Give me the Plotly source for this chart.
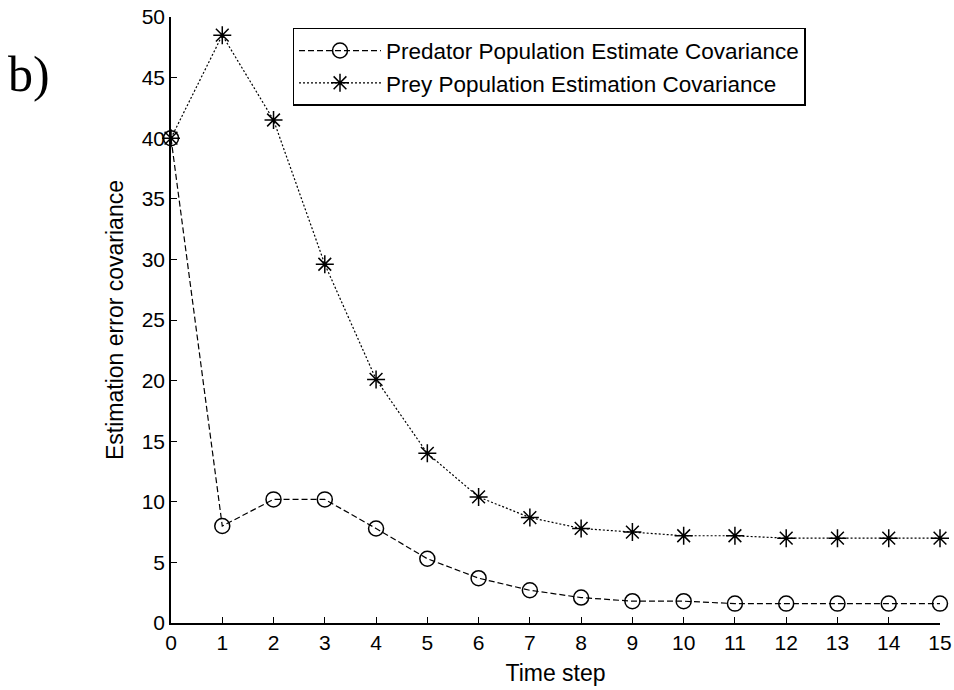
import plotly.graph_objects as go

time_steps = list(range(16))
predator_cov = [40.0, 8.0, 10.2, 10.2, 7.8, 5.3, 3.7, 2.7, 2.1, 1.8, 1.8, 1.6, 1.6, 1.6, 1.6, 1.6]
prey_cov = [40.0, 48.5, 41.5, 29.6, 20.1, 14.0, 10.4, 8.7, 7.8, 7.5, 7.2, 7.2, 7.0, 7.0, 7.0, 7.0]
x_ticks = list(range(16))
y_ticks = list(range(0, 51, 5))

fig = go.Figure()
fig.add_trace(go.Scatter(
    x=time_steps, y=predator_cov, mode="lines+markers",
    name="Predator Population Estimate Covariance",
    line=dict(color="black", width=1.2, dash="6px,3px"),
    marker=dict(symbol="circle-open", size=15, color="black", line=dict(width=1.5)),
    cliponaxis=False,
))
fig.add_trace(go.Scatter(
    x=time_steps, y=prey_cov, mode="lines+markers",
    name="Prey Population Estimation Covariance",
    line=dict(color="black", width=1.2, dash="2px,2px"),
    marker=dict(symbol="asterisk-open", size=15, color="black", line=dict(width=1.5, color="black")),
    cliponaxis=False,
))

family = "Liberation Sans, Arial"
tick_font = dict(family=family, size=21, color="black")
legend_font = dict(family=family, size=22.5, color="black")
title_font = dict(family=family, size=23, color="black")
fig.update_layout(
    width=954, height=690,
    margin=dict(l=171, r=14, t=17, b=67, autoexpand=False),
    paper_bgcolor="white", plot_bgcolor="white",
    font=tick_font,
    showlegend=True,
    legend=dict(
        x=0.158, y=0.982, xanchor="left", yanchor="top",
        bgcolor="white", bordercolor="black", borderwidth=1.5,
        font=legend_font, itemwidth=82,
        entrywidth=430, entrywidthmode="pixels",
    ),
    xaxis=dict(
        range=[0, 15], tickmode="array", tickvals=x_ticks,
        ticks="inside", ticklen=6, tickcolor="black", tickwidth=1.2,
        showline=True, linecolor="black", linewidth=1.5,
        showgrid=False, zeroline=False, automargin=False,
        title=dict(text="Time step", font=title_font, standoff=12),
        tickfont=tick_font,
    ),
    yaxis=dict(
        range=[0, 50], tickmode="array", tickvals=y_ticks,
        ticks="inside", ticklen=6, tickcolor="black", tickwidth=1.2,
        showline=True, linecolor="black", linewidth=1.5,
        showgrid=False, zeroline=False, automargin=False,
        title=dict(text="Estimation error covariance", font=title_font, standoff=12),
        tickfont=tick_font,
    ),
    annotations=[dict(
        text="b)", x=-0.2145, y=0.955, xref="paper", yref="paper",
        xanchor="left", yanchor="top", showarrow=False,
        font=dict(family="Liberation Serif, Times New Roman", size=50, color="black"),
    )],
)

fig.write_html(
    "out.html",
    config={"displayModeBar": False},
    post_script="document.body.style.margin='0';document.body.style.overflow='hidden';",
)
